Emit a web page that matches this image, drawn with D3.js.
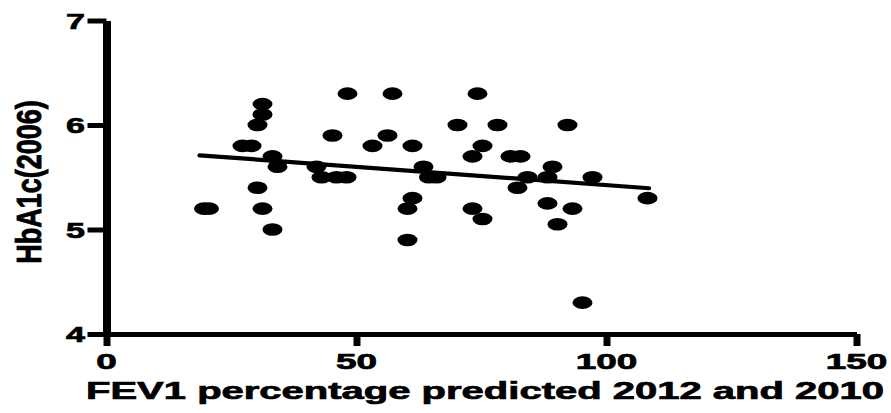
<!DOCTYPE html>
<html>
<head>
<meta charset="utf-8">
<script src="https://cdn.jsdelivr.net/npm/d3@7"></script>
<style>
  html, body { margin: 0; padding: 0; background: #fff; }
  svg { display: block; }
  text { font-family: "Liberation Sans", Arial, sans-serif; font-weight: bold; fill: #000; stroke: #000; stroke-width: 0.7; }
</style>
</head>
<body>
<svg id="chart" width="891" height="413"></svg>
<script>
// ---- data ----
const fev1 = [19.5, 20.5, 31.2, 31.2, 30.2, 27.2, 29.0, 33.2, 34.2, 30.2, 31.2, 33.2,
  42.0, 43.0, 46.0, 48.0, 45.2, 48.2, 57.2, 56.2, 53.2, 61.2, 63.4, 64.5, 66.0,
  61.2, 60.2, 60.2, 74.2, 70.2, 78.2, 92.2, 75.2, 73.2, 80.8, 82.8, 89.2, 84.2,
  88.2, 97.2, 82.2, 108.2, 73.2, 75.2, 88.2, 93.2, 90.2, 95.2];
const hba1c = [5.2, 5.2, 6.2, 6.1, 6.0, 5.8, 5.8, 5.7, 5.6, 5.4, 5.2, 5.0,
  5.6, 5.5, 5.5, 5.5, 5.9, 6.3, 6.3, 5.9, 5.8, 5.8, 5.6, 5.5, 5.5,
  5.3, 5.2, 4.9, 6.3, 6.0, 6.0, 6.0, 5.8, 5.7, 5.7, 5.7, 5.6, 5.5,
  5.5, 5.5, 5.4, 5.3, 5.2, 5.1, 5.25, 5.2, 5.05, 4.3];
const fitX = [18.6, 108.5];
const fitY = [5.71, 5.395];
const xTicks = [0, 50, 100, 150];
const yTicks = [4, 5, 6, 7];
const xTitle = "FEV1 percentage predicted 2012 and 2010";
const yTitle = "HbA1c(2006)";

// ---- layout ----
const svg = d3.select("#chart");
const x = d3.scaleLinear().domain([0, 150]).range([106.5, 856.5]);
const y = d3.scaleLinear().domain([4, 7]).range([334, 20.5]);

// axes
const gy = svg.append("g").attr("transform", `translate(${x(0)},0)`)
  .call(d3.axisLeft(y).tickValues(yTicks).tickSize(19).tickSizeOuter(0).tickFormat(""));
gy.select(".domain").attr("stroke", "#000").attr("stroke-width", 8);
gy.selectAll(".tick line").attr("stroke", "#000").attr("stroke-width", 5);

const gx = svg.append("g").attr("transform", `translate(0,${y(4)})`)
  .call(d3.axisBottom(x).tickValues(xTicks).tickSize(12).tickSizeOuter(0).tickFormat(""));
gx.select(".domain").attr("stroke", "#000").attr("stroke-width", 5);
gx.selectAll(".tick line").attr("stroke", "#000").attr("stroke-width", 7);

// tick labels (horizontally stretched as in the reference)
svg.append("g").selectAll("text").data(yTicks).join("text")
  .attr("transform", d => `translate(85,${y(d) + 8}) scale(1.55,1)`)
  .attr("text-anchor", "end").attr("font-size", 22)
  .text(d => d);

svg.append("g").selectAll("text").data(xTicks).join("text")
  .attr("transform", d => `translate(${x(d)},369) scale(1.68,1)`)
  .attr("text-anchor", "middle").attr("font-size", 22)
  .text(d => d);

// axis titles
svg.append("text")
  .attr("x", 86).attr("y", 399)
  .attr("font-size", 24)
  .attr("textLength", 798).attr("lengthAdjust", "spacingAndGlyphs")
  .text(xTitle);

svg.append("text")
  .attr("transform", "translate(28.5,182) scale(1.3,1) rotate(-90)")
  .attr("text-anchor", "middle").attr("dy", "0.36em")
  .attr("font-size", 27)
  .text(yTitle);

// regression line
svg.append("path")
  .datum(fitX.map((v, i) => [v, fitY[i]]))
  .attr("d", d3.line().x(d => x(d[0])).y(d => y(d[1])))
  .attr("stroke", "#000").attr("stroke-width", 4.2).attr("stroke-linecap", "round").attr("fill", "none");

// points
svg.append("g").selectAll("ellipse").data(fev1.map((v, i) => [v, hba1c[i]])).join("ellipse")
  .attr("cx", d => x(d[0])).attr("cy", d => y(d[1]))
  .attr("rx", 10).attr("ry", 6.3)
  .attr("fill", "#000");
</script>
</body>
</html>
